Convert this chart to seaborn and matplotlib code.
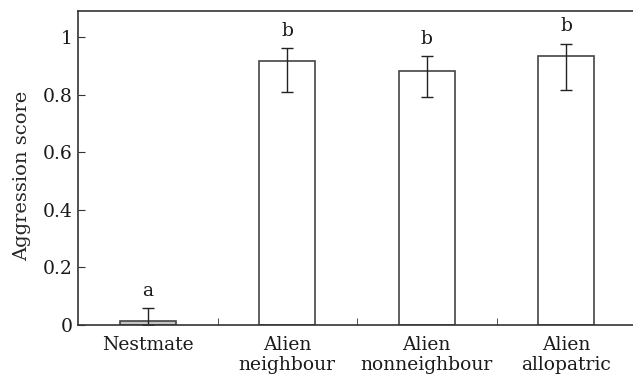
import pandas as pd
import matplotlib.pyplot as plt
import seaborn as sns

# values
groups = ['Nestmate', 'Alien\nneighbour', 'Alien\nnonneighbour', 'Alien\nallopatric']
scores = [0.014, 0.916, 0.882, 0.934]
err_low = [0.013, 0.106, 0.091, 0.119]
err_high = [0.044, 0.046, 0.052, 0.043]
letters = ['a', 'b', 'b', 'b']
fills = ['#c4c4c4', 'white', 'white', 'white']

sns.set_style('ticks')
plt.rcParams['font.family'] = ['DejaVu Serif']
plt.rcParams['font.size'] = 13.5
plt.rcParams['text.color'] = '#1a1a1a'
plt.rcParams['xtick.labelcolor'] = '#1a1a1a'
plt.rcParams['ytick.labelcolor'] = '#1a1a1a'

df = pd.DataFrame({'Group': groups, 'Score': scores})

fig = plt.figure(figsize=(6.33, 3.8), dpi=100)
ax = fig.add_axes([78 / 633, 55 / 380, 558 / 633, 314 / 380])

sns.barplot(x='Group', y='Score', data=df, hue='Group', palette=fills,
            width=0.4, edgecolor='#444444', linewidth=1.2, legend=False, ax=ax)

ax.errorbar(range(len(groups)), scores, yerr=[err_low, err_high], fmt='none',
            ecolor='#222222', elinewidth=1, capsize=4, capthick=1)

# significance letters above the error bars
for i, lab in enumerate(letters):
    ax.annotate(lab, (i, scores[i] + err_high[i]), xytext=(0, 6),
                textcoords='offset points', ha='center', va='bottom', fontsize=13.5)

ax.set_xlim(-0.5, 3.5)
ax.set_ylim(0, 1.09)
ax.set_yticks([0, 0.2, 0.4, 0.6, 0.8, 1])
ax.set_yticklabels(['0', '0.2', '0.4', '0.6', '0.8', '1'])
ax.set_xticks([0.5, 1.5, 2.5], minor=True)
ax.set_xticks(range(len(groups)))
ax.tick_params(axis='x', which='major', length=0, pad=8)
ax.tick_params(axis='x', which='minor', direction='in', length=5, color='#333333')
ax.tick_params(axis='y', direction='in', length=5, color='#333333', pad=4)
ax.set_xticklabels(groups, linespacing=1.15)
ax.set_xlabel('')
ax.set_ylabel('Aggression score', fontsize=14)
ax.yaxis.set_label_coords(-0.084, 0.475)

for side in ['left', 'top', 'bottom']:
    ax.spines[side].set_color('#333333')
    ax.spines[side].set_linewidth(1.2)
ax.spines['right'].set_visible(False)

plt.savefig('out.png', dpi=100)
